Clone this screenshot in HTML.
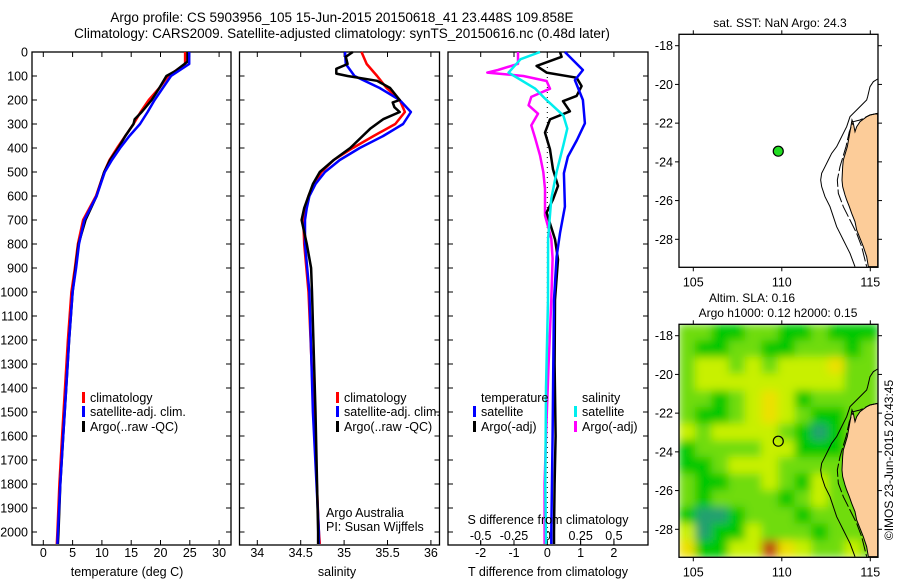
<!DOCTYPE html>
<html><head><meta charset="utf-8"><style>
body{margin:0;background:#fff;}
svg{display:block;font-family:"Liberation Sans",sans-serif;}
text{fill:#000;}
</style></head><body>
<svg id="chart" width="900" height="580" viewBox="0 0 900 580" xmlns="http://www.w3.org/2000/svg">
<defs>
<filter id="blur" x="-10%" y="-10%" width="120%" height="120%"><feGaussianBlur stdDeviation="4.5"/></filter>
<clipPath id="mapclip"><rect x="679" y="324" width="199" height="233"/></clipPath>
</defs>
<text x="342" y="22" font-size="13.5" text-anchor="middle">Argo profile: CS 5903956_105 15-Jun-2015 20150618_41 23.448S 109.858E</text>
<text x="342" y="38" font-size="13.5" text-anchor="middle">Climatology: CARS2009. Satellite-adjusted climatology: synTS_20150616.nc (0.48d later)</text>
<g id="g"></g>
</svg>
<script>
const depthTicks=[0,100,200,300,400,500,600,700,800,900,1000,1100,1200,1300,1400,1500,1600,1700,1800,1900,2000];
const tClimDepth=[0,50,100,150,200,250,300,350,400,450,500,600,700,800,900,1000,1200,1400,1600,1800,2000,2050];
const tClim=[24.2,24.2,21.3,19.8,18.0,16.6,15.4,14.0,12.6,11.3,10.4,9.0,6.8,5.9,5.4,4.8,4.2,3.7,3.2,2.75,2.4,2.3];
const tSatDepth=[0,50,100,150,200,250,300,350,400,450,500,600,700,800,900,1000,1200,1400,1600,1800,2000,2050];
const tSat=[24.9,24.9,21.8,20.4,19.0,17.8,16.5,14.7,13.1,11.7,10.5,9.1,7.0,6.1,5.6,5.0,4.4,3.9,3.4,2.9,2.5,2.4];
const tArgoDepth=[0,40,50,80,100,150,200,250,280,300,350,400,450,500,600,700,800,900,1000,1200,1400,1600,1800,2000,2050];
const tArgo=[24.6,24.6,24.1,22.5,21.0,19.8,18.5,16.8,15.6,15.4,14.0,12.8,11.4,10.4,9.1,7.2,6.0,5.5,5.0,4.4,3.9,3.4,2.9,2.6,2.5];
const sClimDepth=[0,50,100,150,200,250,300,350,400,450,500,550,600,650,700,800,1000,1500,2000,2050];
const sClim=[35.20,35.26,35.38,35.49,35.64,35.70,35.59,35.34,35.10,34.88,34.74,34.65,34.59,34.55,34.53,34.54,34.59,34.65,34.71,34.72];
const sSatDepth=[0,50,100,150,200,250,300,350,400,450,500,550,600,650,700,800,1000,1500,2000,2050];
const sSat=[35.01,35.02,35.12,35.41,35.64,35.77,35.68,35.45,35.18,34.95,34.78,34.67,34.60,34.57,34.55,34.55,34.60,34.64,34.71,34.71];
const sArgoDepth=[0,20,50,70,90,100,120,150,200,210,230,250,280,320,400,450,500,550,600,650,700,800,900,1000,1500,2000,2050];
const sArgo=[35.10,35.02,35.04,34.91,34.91,35.04,35.38,35.53,35.64,35.56,35.58,35.64,35.45,35.30,35.07,34.88,34.72,34.64,34.59,34.54,34.51,34.57,34.62,34.63,34.67,34.70,34.70];
const dTSatDepth=[0,75,117,200,297,367,436,505,644,755,853,1033,1300,1600,2000,2050];
const dTSat=[0.53,1.07,0.83,1.07,1.13,0.89,0.62,0.50,0.53,0.38,0.28,0.20,0.18,0.16,0.12,0.12];
const dTArgoDepth=[0,20,58,86,107,142,183,205,247,281,336,406,489,558,614,669,780,864,1033,1300,1600,1800,2000,2050];
const dTArgo=[0.38,0.43,-0.32,-0.02,0.88,1.03,0.88,0.47,0.68,0.08,-0.07,0.08,0.17,0.32,0.17,-0.02,0.23,0.32,0.23,0.22,0.25,0.22,0.20,0.20];
const dSSatDepth=[0,30,86,153,194,264,319,389,500,611,778,1033,1400,1800,2050];
const dSSat=[-0.055,-0.2,-0.29,-0.09,-0.017,0.12,0.15,0.12,0.07,0.03,0.006,0.005,-0.01,-0.015,-0.01];
const dSArgoDepth=[0,49,75,86,100,121,153,187,222,257,306,361,431,500,570,681,778,861,1033,1300,1600,1800,2000,2050];
const dSArgo=[-0.22,-0.22,-0.37,-0.45,-0.18,-0.005,0.02,-0.12,-0.14,-0.07,-0.12,-0.09,-0.055,-0.03,-0.017,-0.017,0.03,0.04,0.03,0.01,-0.01,-0.02,-0.02,-0.02];
const slaGrid=[
[2,2,1,1,2,2,1,1,2,1,1,1],
[2,1,1,2,2,1,1,2,2,2,1,2],
[2,3,3,2,3,2,3,3,3,4,2,2],
[2,3,3,3,3,3,3,3,3,3,2,2],
[2,2,1,2,3,4,3,1,2,2,2,2],
[2,1,1,2,3,4,3,2,1,1,2,2],
[3,2,3,3,3,3,2,1,0,1,2,2],
[1,2,2,2,2,3,3,1,1,1,2,2],
[1,1,2,3,3,3,2,2,2,2,2,2],
[2,1,1,2,2,3,2,1,3,2,1,2],
[2,1,2,2,2,2,1,2,3,2,2,2],
[1,0,0,1,2,2,2,1,2,2,2,2],
[3,0,1,1,3,2,2,2,1,2,2,2],
[4,1,1,3,3,6,4,3,2,2,3,2]];
const slaColors=["#20a070","#00c800","#70dc10","#c8f000","#ece000","#e8a010","#c05008"];
const tTicks=[0,5,10,15,20,25,30];
const sTicks=[34,34.5,35,35.5,36];
const dTTicks=[-2,-1,0,1,2];
const dSTicks=[-0.5,-0.25,0,0.25,0.5];
const dSLabels=["-0.5","-0.25","0","0.25","0.5"];
const lonTicks=[105,110,115];
const latTicks=[-18,-20,-22,-24,-26,-28];
const floatLon=109.8, floatLat=-23.45;

const NS="http://www.w3.org/2000/svg";
const G=document.getElementById('g');
function el(tag,attrs,parent,txt){const e=document.createElementNS(NS,tag);for(const k in attrs)e.setAttribute(k,attrs[k]);if(txt!==undefined)e.textContent=txt;(parent||G).appendChild(e);return e;}
const yD=d=>52+d*0.24;
const PB=545;
const xT=v=>43.3+v*5.86;
const xS=v=>257.3+(v-34)*86.8;
const xDT=v=>547.3+v*33.3;
const xDS=v=>547.3+v*133.3;
const mx=lon=>693.3+(lon-105)*17.7;
const myTop=lat=>45.7+(-18-lat)*19.36;
const myBot=lat=>335.7+(-18-lat)*19.36;

function frame(x0,x1,name){
  const r=el('rect',{x:x0,y:52,width:x1-x0,height:PB-52,fill:'none',stroke:'#000','stroke-width':1.3});
  
  
  depthTicks.forEach(d=>{
    el('line',{x1:x0,x2:x0+5,y1:yD(d),y2:yD(d),stroke:'#000'});
    el('line',{x1:x1-5,x2:x1,y1:yD(d),y2:yD(d),stroke:'#000'});
  });
}
function xticks(vals,fn,labels,y,x0,x1,name){
  vals.forEach((v,i)=>{
    const x=fn(v);
    el('line',{x1:x,x2:x,y1:PB,y2:PB-5,stroke:'#000'});
    el('line',{x1:x,x2:x,y1:52,y2:57,stroke:'#000'});
    const t=el('text',{x:x,y:y,'font-size':12.5,'text-anchor':'middle'},G,labels?labels[i]:String(v));
    
    
  });
}
function line(vals,depths,fn,color,name,w){
  const p=vals.map((v,i)=>fn(v).toFixed(1)+','+yD(depths[i]).toFixed(1)).join(' ');
  const l=el('polyline',{points:p,fill:'none',stroke:color,'stroke-width':w||2.5,'stroke-linejoin':'round'});
  
  
}
function legend(x,y,color,label,name){
  el('rect',{x:x,y:y-10,width:3,height:11,fill:color});
  const t=el('text',{x:x+8,y:y,'font-size':12.5},G,label);
  
  
}
depthTicks.forEach(d=>{
  const t=el('text',{x:28,y:yD(d)+4.5,'font-size':12.5,'text-anchor':'end'},G,String(d));
  
  
});
frame(32,231,'temperature-panel');
xticks(tTicks,xT,null,557,32,231,'temperature-tick-label');
line(tClim,tClimDepth,xT,'#f00','temp-climatology-line');
line(tArgo,tArgoDepth,xT,'#000','temp-argo-line');
line(tSat,tSatDepth,xT,'#00f','temp-satellite-line');
let t=el('text',{x:127,y:576,'font-size':12.5,'text-anchor':'middle'},G,'temperature (deg C)');

legend(82,402,'#f00','climatology','legend-climatology');
legend(82,416,'#00f','satellite-adj. clim.','legend-satellite-adj');
legend(82,431,'#000','Argo(..raw -QC)','legend-argo');
frame(239.5,439.5,'salinity-panel');
xticks(sTicks,xS,["34","34.5","35","35.5","36"],557,239,439,'salinity-tick-label');
line(sClim,sClimDepth,xS,'#f00','sal-climatology-line');
line(sSat,sSatDepth,xS,'#00f','sal-satellite-line');
line(sArgo,sArgoDepth,xS,'#000','sal-argo-line');
t=el('text',{x:337,y:576,'font-size':12.5,'text-anchor':'middle'},G,'salinity');

legend(336,402,'#f00','climatology','legend-climatology-2');
legend(336,416,'#00f','satellite-adj. clim.','legend-satellite-adj-2');
legend(336,431,'#000','Argo(..raw -QC)','legend-argo-2');
t=el('text',{x:326,y:517,'font-size':12.5},G,'Argo Australia');

t=el('text',{x:326,y:531,'font-size':12.5},G,'PI: Susan Wijffels');

frame(448,648,'difference-panel');
xticks(dTTicks,xDT,null,557,448,648,'t-diff-tick-label');
dSTicks.forEach((v,i)=>{
  const x=xDS(v);
  el('line',{x1:x,x2:x,y1:PB,y2:PB-4,stroke:'#000'});
  const tt=el('text',{x:x,y:540,'font-size':12.5,'text-anchor':'middle'},G,dSLabels[i]);
  
  
});
el('line',{x1:xDT(0),x2:xDT(0),y1:52,y2:PB,stroke:'#000','stroke-dasharray':'1,4'});
line(dSArgo,dSArgoDepth,xDS,'#f0f','s-argo-diff-line');
line(dTArgo,dTArgoDepth,xDT,'#000','t-argo-diff-line');
line(dTSat,dTSatDepth,xDT,'#00f','t-satellite-diff-line');
line(dSSat,dSSatDepth,xDS,'#0ee','s-satellite-diff-line');
t=el('text',{x:548,y:524,'font-size':12.5,'text-anchor':'middle'},G,'S difference from climatology');

t=el('text',{x:548,y:576,'font-size':12.5,'text-anchor':'middle'},G,'T difference from climatology');

t=el('text',{x:481,y:402,'font-size':12.5},G,'temperature');

t=el('text',{x:582,y:402,'font-size':12.5},G,'salinity');

legend(473,416,'#00f','satellite','legend-t-satellite');
legend(473,431,'#000','Argo(-adj)','legend-t-argo');
legend(574,416,'#0ee','satellite','legend-s-satellite');
legend(574,431,'#f0f','Argo(-adj)','legend-s-argo');

const landZ="713,340 690,345 680,350 660,365 650,380 645,395 640,370 636,360 630,395 622,440 610,480 608,500 606,540 608,560 615,585 620,600 628,620 635,640 645,665 650,690 660,715 670,740 680,770 685,800 713,800";
const outerZ="713,237 700,245 690,260 683,290 680,300 665,315 650,330 630,350 620,380 610,400 600,420 590,440 575,460 565,480 555,500 545,520 542,540 545,560 555,590 570,620 580,650 590,680 600,700 610,720 620,740 630,760 645,800";
const innerZ="713,340 690,345 660,360 640,365 628,395 618,440 600,500 592,540 595,580 610,620 630,660 650,700 665,740 680,800";
function map(top,name,heat){
  const off=top?0:290;
  const my=top?myTop:myBot;
  const fy=top?34.3:324.3;
  if(heat){
    const hg=el('g',{'clip-path':'url(#mapclip)'});
    const bg=el('g',{filter:'url(#blur)'},hg);
    const cw=199/12,ch=233/14;
    slaGrid.forEach((row,r)=>row.forEach((v,c)=>{
      const cell=el('rect',{x:(679+c*cw-0.5).toFixed(1),y:(fy+r*ch-0.5).toFixed(1),width:(cw+1).toFixed(1),height:(ch+1).toFixed(1),fill:slaColors[v]},bg);
      
      
    }));
  }
  const gz=el('g',{transform:`translate(640,${off}) scale(0.33333)`});
  const land=el('polygon',{points:landZ,fill:'#fccc99',stroke:'#000','stroke-width':3},gz);
  
  el('polyline',{points:outerZ,fill:'none',stroke:'#000','stroke-width':3},gz);
  el('polyline',{points:innerZ,fill:'none',stroke:'#000','stroke-width':3,'stroke-dasharray':'40,8'},gz);
  const fr=el('rect',{x:679,y:fy,width:199,height:233,fill:'none',stroke:'#000','stroke-width':1.3});
  
  lonTicks.forEach(l=>{
    const x=mx(l);
    el('line',{x1:x,x2:x,y1:fy,y2:fy-4,stroke:'#000'});
    el('line',{x1:x,x2:x,y1:fy+233,y2:fy+237,stroke:'#000'});
    const tt=el('text',{x:x,y:fy+252,'font-size':12.5,'text-anchor':'middle'},G,String(l));
    
  });
  latTicks.forEach(l=>{
    const y=my(l);
    el('line',{x1:679,x2:675,y1:y,y2:y,stroke:'#000'});
    el('line',{x1:878,x2:882,y1:y,y2:y,stroke:'#000'});
    const tt=el('text',{x:673,y:y+4.5,'font-size':12.5,'text-anchor':'end'},G,String(l));
    
  });
  const c=el('circle',{cx:mx(floatLon),cy:my(floatLat),r:5,fill:heat?'none':'#22dd22',stroke:'#000','stroke-width':1.2});
  
}
map(true,'sst-map',false);
map(false,'sla-map',true);
t=el('text',{x:780,y:27,'font-size':12},G,'sat. SST: NaN Argo: 24.3');
t.setAttribute('text-anchor','middle');

t=el('text',{x:752,y:302,'font-size':12,'text-anchor':'middle'},G,'Altim. SLA: 0.16');

t=el('text',{x:778,y:317,'font-size':12,'text-anchor':'middle'},G,'Argo h1000: 0.12 h2000: 0.15');

t=el('text',{x:0,y:0,'font-size':12,'text-anchor':'middle',transform:'translate(893,460) rotate(-90)'},G,'©IMOS 23-Jun-2015 20:43:45');

</script>
</body></html>
